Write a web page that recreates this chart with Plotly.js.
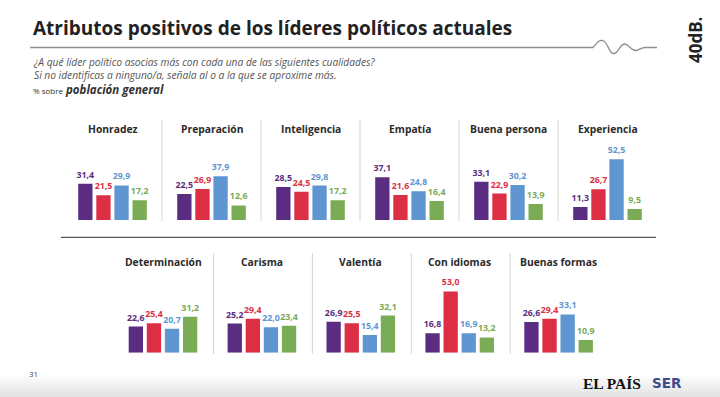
<!DOCTYPE html>
<html><head><meta charset="utf-8">
<script src="https://cdn.plot.ly/plotly-3.0.1.min.js"></script>
<style>
html,body{margin:0;padding:0;width:720px;height:397px;overflow:hidden;
background:linear-gradient(to bottom,#ffffff 0px,#ffffff 374px,#e2e2e2 397px);}
#chart{width:720px;height:397px;}
</style>
</head><body><div id="chart"></div>
<script>
// ---- data ----
const attributes = ['Honradez','Preparación','Inteligencia','Empatía','Buena persona','Experiencia',
                    'Determinación','Carisma','Valentía','Con idiomas','Buenas formas'];
const leaders = ['Yolanda Díaz','Pedro Sánchez','Alberto Núñez Feijóo','Santiago Abascal'];
const yolandaDiaz   = [31.4,22.5,28.5,37.1,33.1,11.3,22.6,25.2,26.9,16.8,26.6];
const pedroSanchez  = [21.5,26.9,24.5,21.6,22.9,26.7,25.4,29.4,25.5,53.0,29.4];
const nunezFeijoo   = [29.9,37.9,29.8,24.8,30.2,52.5,20.7,22.0,15.4,16.9,33.1];
const santiagoAbascal = [17.2,12.6,17.2,16.4,13.9,9.5,31.2,23.4,32.1,13.2,10.9];
const series = [yolandaDiaz, pedroSanchez, nunezFeijoo, santiagoAbascal];
const colors = ['#5b2d82','#dc2f44','#5f95d0','#7aab55'];

// ---- geometry helpers (pixels -> paper) ----
const W = 720, H = 397;
const px = v => v / W;
const py = v => 1 - v / H;
const FONT = 'Open Sans, Roboto, sans-serif';

const traces = [];
const layout = {
  width: W, height: H,
  margin: {l:0, r:0, t:0, b:0},
  paper_bgcolor: 'rgba(0,0,0,0)',
  plot_bgcolor: 'rgba(0,0,0,0)',
  showlegend: false,
  separators: ',.',
  font: {family: FONT},
  annotations: [],
  shapes: []
};

const yMax = 70;
const pxPerUnit = 1.155;
const halfGroup = 36.2;

attributes.forEach((attr, k) => {
  const top = k < 6;
  const i = top ? k : k - 6;
  const cx = top ? 112.5 + 99 * i : 163 + 98.9 * i;
  const base = top ? 220 : 352.7;
  const ax = k === 0 ? '' : String(k + 1);
  traces.push({
    type: 'bar',
    x: leaders,
    y: series.map(s => s[k]),
    xaxis: 'x' + ax, yaxis: 'y' + ax,
    marker: {color: colors, line: {width: 0}},
    texttemplate: '%{y:.1f}',
    textposition: 'outside',
    constraintext: 'none',
    textfont: {color: colors, size: 8.8, family: FONT, weight: 700},
    cliponaxis: false,
    hoverinfo: 'skip'
  });
  layout['xaxis' + ax] = {
    domain: [px(cx - halfGroup), px(cx + halfGroup)],
    anchor: 'y' + ax, type: 'category', range: [-0.5, 3.5],
    visible: false, fixedrange: true
  };
  layout['yaxis' + ax] = {
    domain: [py(base), py(base - yMax * pxPerUnit)],
    anchor: 'x' + ax, range: [0, yMax],
    visible: false, fixedrange: true
  };
  layout.annotations.push({
    xref: 'paper', yref: 'paper', x: px(cx), y: py(top ? 129 : 261.5),
    text: attr, showarrow: false, xanchor: 'center', yanchor: 'middle',
    font: {family: FONT, size: 10.3, color: '#2b2b2b', weight: 700}
  });
});
layout.bargap = 0.21;

// separators
const sepColor = '#d6d6d6';
[162, 261, 360, 459, 558].forEach(x => layout.shapes.push({
  type: 'line', xref: 'paper', yref: 'paper', x0: px(x), x1: px(x), y0: py(120), y1: py(221),
  line: {color: sepColor, width: 1}
}));
[213.5, 312.4, 411.3, 510.2].forEach(x => layout.shapes.push({
  type: 'line', xref: 'paper', yref: 'paper', x0: px(x), x1: px(x), y0: py(253), y1: py(354),
  line: {color: sepColor, width: 1}
}));
layout.shapes.push({
  type: 'line', xref: 'paper', yref: 'paper', x0: px(61), x1: px(656), y0: py(237.3), y1: py(237.3),
  line: {color: '#555555', width: 1.3}
});

// header line with wave
const P = (x, y) => px(x).toFixed(5) + ',' + py(y).toFixed(5);
layout.shapes.push({
  type: 'path', xref: 'paper', yref: 'paper',
  path: 'M' + P(30, 47.5) + ' L' + P(593, 47.5) +
        ' C' + P(597, 43) + ' ' + P(599, 39.5) + ' ' + P(603, 40.5) +
        ' C' + P(608, 42) + ' ' + P(609, 54.5) + ' ' + P(614, 53.5) +
        ' C' + P(619, 52.5) + ' ' + P(620, 43.5) + ' ' + P(625, 44) +
        ' C' + P(629, 44.5) + ' ' + P(631, 51) + ' ' + P(636, 50.5) +
        ' C' + P(640, 50) + ' ' + P(641, 47.5) + ' ' + P(645, 47.5) +
        ' L' + P(657, 47.5),
  line: {color: '#8f8f8f', width: 1.3}
});

// header texts
const A = (o) => layout.annotations.push(Object.assign({xref:'paper', yref:'paper', showarrow:false}, o));
A({x: px(31), y: py(28), xanchor: 'left', yanchor: 'middle',
   text: 'Atributos positivos de los líderes políticos actuales',
   font: {family: FONT, size: 19, color: '#222222', weight: 700}});
A({x: px(31), y: py(68), xanchor: 'left', yanchor: 'middle', align: 'left',
   text: '<i>¿A qué líder político asocias más con cada una de las siguientes cualidades?</i><br>' +
         '<i>Si no identificas a ninguno/a, señala al o a la que se aproxime más.</i>',
   font: {family: FONT, size: 10.2, color: '#555555'}});
A({x: px(31), y: py(89), xanchor: 'left', yanchor: 'middle',
   text: '<span style="font-size:8px">% sobre</span> <b><i>población general</i></b>',
   font: {family: FONT, size: 11.5, color: '#333333'}});
A({x: px(695), y: py(40), xanchor: 'center', yanchor: 'middle', textangle: -90,
   text: '<b>40dB.</b>', font: {family: FONT, size: 17, color: '#222222'}});

// footer
A({x: px(27), y: py(373), xanchor: 'left', yanchor: 'middle', text: '31',
   font: {family: FONT, size: 8, color: '#444444'}});
A({x: px(581), y: py(383), xanchor: 'left', yanchor: 'middle', text: 'EL PAÍS',
   font: {family: 'Liberation Serif, serif', size: 15.5, color: '#111111', weight: 700}});
A({x: px(650), y: py(383), xanchor: 'left', yanchor: 'middle', text: 'SER',
   font: {family: 'DejaVu Sans, sans-serif', size: 13.5, color: '#3f4a8c', weight: 700}});

Plotly.newPlot('chart', traces, layout, {displayModeBar: false, staticPlot: true});
</script>
</body></html>
